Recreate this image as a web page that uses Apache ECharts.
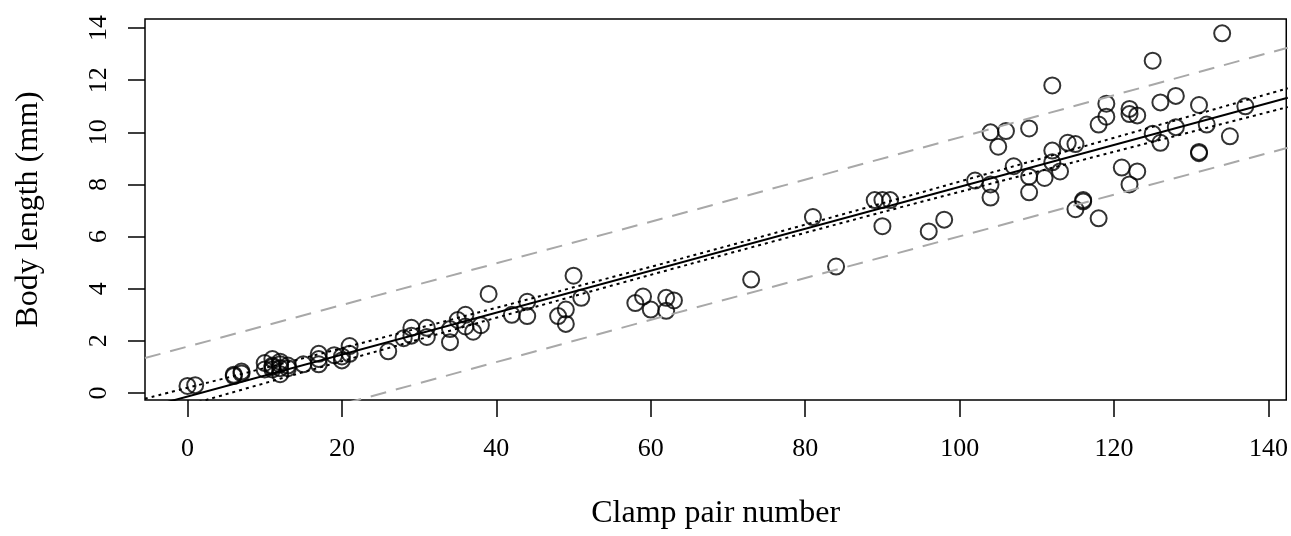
<!DOCTYPE html>
<html>
<head>
<meta charset="utf-8">
<script src="https://cdn.jsdelivr.net/npm/echarts@6/dist/echarts.min.js"></script>
<style>
  html, body { margin: 0; padding: 0; background: #fff; }
  #chart { width: 1291px; height: 536px; }
</style>
</head>
<body>
<div id="chart"></div>
<script>
// data
var clampPair = [0, 1, 6, 6, 7, 7, 10, 10, 11, 11, 11, 12, 12, 12, 13, 13, 11, 12,
    15, 17, 17, 17, 19, 20, 20, 21, 21,
    26, 28, 29, 29, 31, 31, 34, 34, 35, 36, 36, 37, 38, 39, 42, 44, 44,
    48, 49, 49, 50, 51, 58, 59, 60, 62, 62, 63, 73,
    81, 84, 89, 90, 91, 90, 96, 98, 102,
    104, 106, 109, 105, 107, 114, 115, 112, 112, 112,
    104, 104, 109, 109, 111, 113, 115, 116, 116, 118,
    119, 119, 118, 122, 122, 121, 122, 123, 123,
    125, 126, 128, 131, 137, 125, 126, 128, 132, 135, 131, 131, 134];
var bodyLength = [0.27, 0.3, 0.65, 0.7, 0.75, 0.82, 1.15, 0.9, 1.3, 1.05, 0.9, 1.2, 0.95, 0.72, 1.05, 0.95, 1.0, 1.1,
    1.1, 1.5, 1.3, 1.1, 1.45, 1.25, 1.4, 1.8, 1.5,
    1.6, 2.1, 2.5, 2.2, 2.5, 2.15, 2.45, 1.95, 2.8, 3.0, 2.55, 2.35, 2.6, 3.8, 3.0, 3.5, 2.95,
    2.95, 3.2, 2.65, 4.5, 3.65, 3.45, 3.7, 3.2, 3.65, 3.15, 3.55, 4.35,
    6.75, 4.85, 7.4, 7.4, 7.4, 6.4, 6.2, 6.65, 8.15,
    10.0, 10.05, 10.15, 9.45, 8.7, 9.6, 9.55, 9.3, 8.85, 11.8,
    8.0, 7.5, 8.3, 7.7, 8.25, 8.5, 7.05, 7.4, 7.35, 6.7,
    11.1, 10.6, 10.3, 10.9, 10.7, 8.65, 8.0, 10.65, 8.5,
    12.75, 11.15, 11.4, 11.05, 11.0, 9.95, 9.6, 10.2, 10.3, 9.85, 9.2, 9.25, 13.8];

// fitted line and bands, read at a few x positions
var fitX = [-5.5, 142.5];
var fitY = [-0.58, 11.33];
var ciX = [-5.5, 20, 45, 65, 90, 115, 142.5];
var ciUpper = [-0.22, 1.72, 3.66, 5.24, 7.28, 9.37, 11.69];
var ciLower = [-0.94, 1.22, 3.30, 4.94, 6.94, 8.87, 10.97];
var predX = [-5.5, 65, 142.5];
var predUpper = [1.34, 6.97, 13.25];
var predLower = [-2.5, 3.21, 9.41];

var xTicks = [0, 20, 40, 60, 80, 100, 120, 140];
var yTicks = [0, 2, 4, 6, 8, 10, 12, 14];

function zip(a, b) {
    return a.map(function (v, i) { return [v, b[i]]; });
}

var chart = echarts.init(document.getElementById('chart'));
var serif = '"Liberation Serif", "DejaVu Serif", serif';

var option = {
    animation: false,
    grid: {
        left: 145, right: 2, top: 19, bottom: 136,
        show: true, borderColor: '#000', borderWidth: 1.5,
        backgroundColor: 'transparent'
    },
    xAxis: {
        type: 'value', min: -5.5, max: 142.3,
        name: 'Clamp pair number', nameLocation: 'middle', nameGap: 98,
        nameTextStyle: { fontFamily: serif, fontSize: 32, color: '#000' },
        axisLine: { show: false, onZero: false },
        axisTick: { show: true, length: 17, lineStyle: { color: '#000', width: 1.5 }, customValues: xTicks },
        axisLabel: { fontFamily: serif, fontSize: 26, color: '#000', margin: 36, customValues: xTicks },
        splitLine: { show: false }
    },
    yAxis: {
        type: 'value', min: -0.27, max: 14.35,
        name: 'Body length (mm)', nameLocation: 'middle', nameGap: 100,
        nameTextStyle: { fontFamily: serif, fontSize: 32, color: '#000' },
        axisLine: { show: false, onZero: false },
        axisTick: { show: true, length: 17, lineStyle: { color: '#000', width: 1.5 }, customValues: yTicks },
        axisLabel: { fontFamily: serif, fontSize: 26, color: '#000', margin: 33, rotate: 90, customValues: yTicks },
        splitLine: { show: false }
    },
    series: [
        {
            type: 'line', data: zip(predX, predUpper), symbol: 'none', clip: true,
            lineStyle: { color: '#a8a8a8', width: 2, type: [16, 10] }
        },
        {
            type: 'line', data: zip(predX, predLower), symbol: 'none', clip: true,
            lineStyle: { color: '#a8a8a8', width: 2, type: [16, 10] }
        },
        {
            type: 'line', data: zip(ciX, ciUpper), symbol: 'none', clip: true, smooth: 0.3,
            lineStyle: { color: '#000', width: 2, type: [3, 4] }
        },
        {
            type: 'line', data: zip(ciX, ciLower), symbol: 'none', clip: true, smooth: 0.3,
            lineStyle: { color: '#000', width: 2, type: [3, 4] }
        },
        {
            type: 'line', data: zip(fitX, fitY), symbol: 'none', clip: true,
            lineStyle: { color: '#000', width: 2 }
        },
        {
            type: 'scatter', data: zip(clampPair, bodyLength),
            symbol: 'circle', symbolSize: 16,
            itemStyle: { color: 'transparent', borderColor: '#000', borderWidth: 2 }
        }
    ]
};

chart.setOption(option);
</script>
</body>
</html>
